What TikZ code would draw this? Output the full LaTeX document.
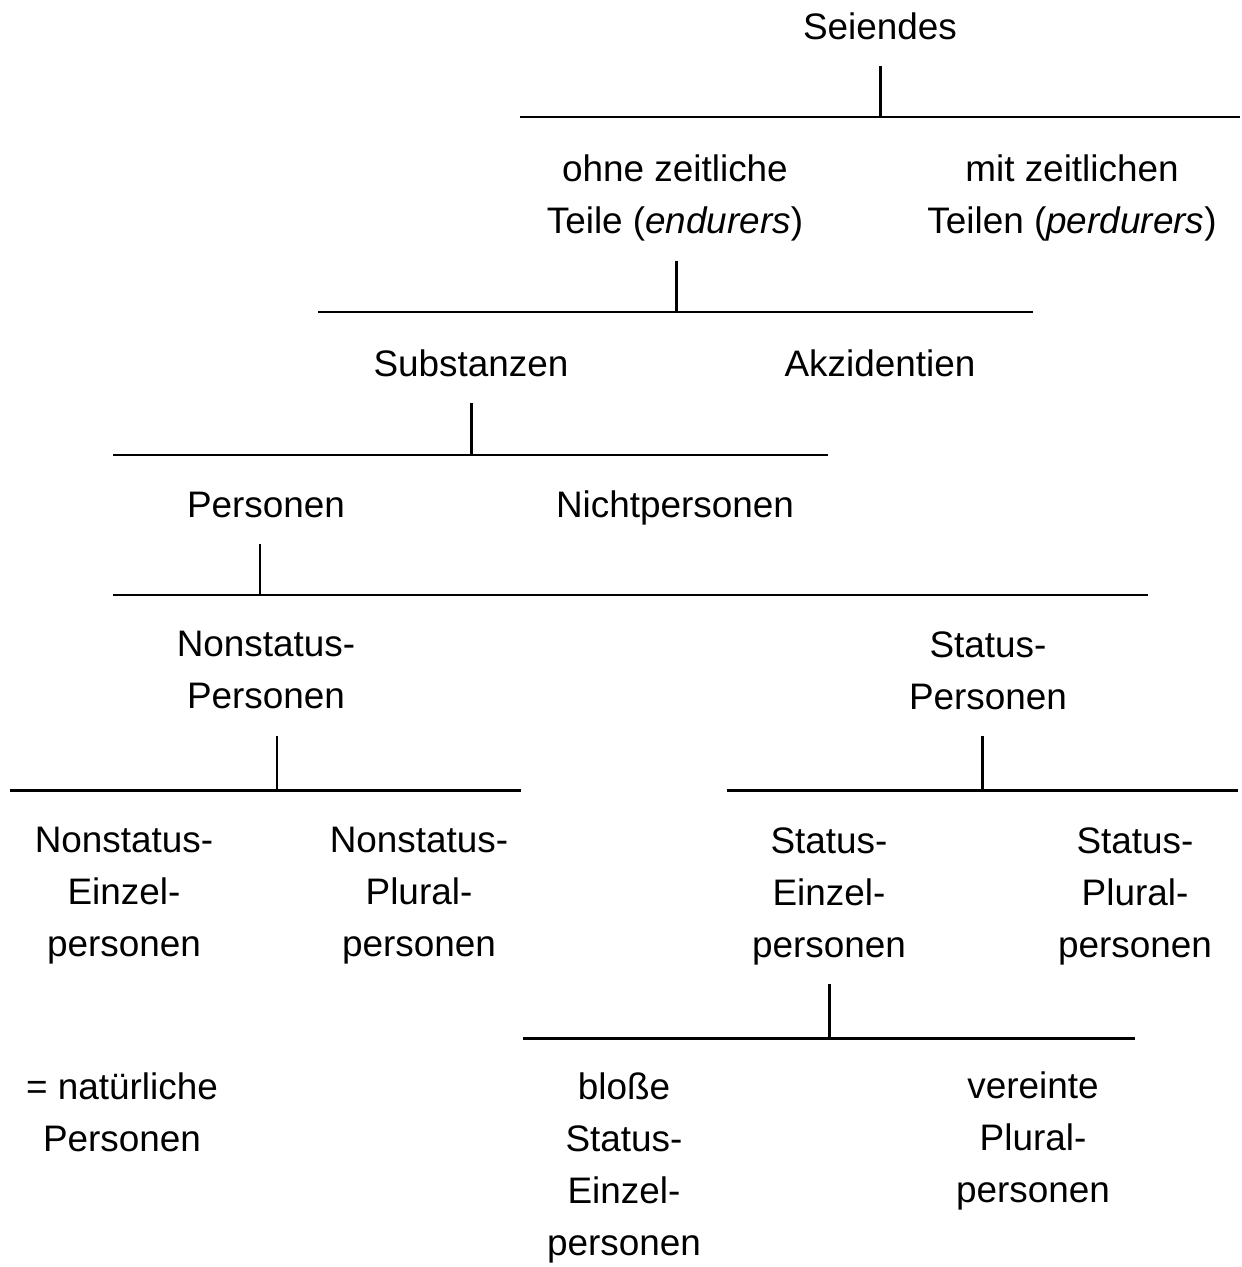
\documentclass[tikz,border=0pt]{standalone}
\usepackage{fontspec}
\setmainfont{Liberation Sans}
\usepackage{tikz}

\begin{document}
\begin{tikzpicture}[x=0.02cm,y=-0.02cm,line width=1.7pt,
    every node/.style={align=center,inner xsep=0pt,inner ysep=0.2cm,
      font=\fontsize{21}{29.6}\selectfont,
      execute at begin node=\strut,execute at end node=\strut}]
    \useasboundingbox (0,0) rectangle (1241,1267);

    % Ebene 1
    \node (seiendes) at (880,29) {Seiendes};
    \coordinate (b1) at (880,117);
    \coordinate (b1l) at (520,117);
    \coordinate (b1r) at (1240,117);
    \node (ohne) at (675,202) {ohne zeitliche\\Teile (\textit{endurers})};
    \node (mit) at (1072,202) {mit zeitlichen\\Teilen (\textit{perdurers})};
    \draw (seiendes.south) -- (b1) (b1l) -- (b1r);

    % Ebene 2
    \coordinate (b2) at (676,312);
    \coordinate (b2l) at (318,312);
    \coordinate (b2r) at (1033,312);
    \node (subst) at (471,366) {Substanzen};
    \node (akzid) at (880,366) {Akzidentien};
    \draw (ohne.south -| b2) -- (b2) (b2l) -- (b2r);

    % Ebene 3
    \coordinate (b3) at (471,455);
    \coordinate (b3l) at (113,455);
    \coordinate (b3r) at (828,455);
    \node (pers) at (266,507) {Personen};
    \node (nichtpers) at (675,507) {Nichtpersonen};
    \draw (subst.south) -- (b3) (b3l) -- (b3r);

    % Ebene 4
    \coordinate (b4) at (260,595);
    \coordinate (b4l) at (113,595);
    \coordinate (b4r) at (1148,595);
    \node (nonstat) at (266,678) {Nonstatus-\\Personen};
    \node (stat) at (988,678) {Status-\\Personen};
    \draw (pers.south -| b4) -- (b4) (b4l) -- (b4r);

    % Ebene 5
    \coordinate (b5) at (277,790);
    \coordinate (b5l) at (10,790);
    \coordinate (b5r) at (521,790);
    \coordinate (b6) at (982,790);
    \coordinate (b6l) at (727,790);
    \coordinate (b6r) at (1238,790);
    \node (nsEinzel) at (124,900) {Nonstatus-\\Einzel-\\personen};
    \node (nsPlural) at (419,900) {Nonstatus-\\Plural-\\personen};
    \node (sEinzel) at (829,900) {Status-\\Einzel-\\personen};
    \node (sPlural) at (1135,900) {Status-\\Plural-\\personen};
    \draw (nonstat.south -| b5) -- (b5) (b5l) -- (b5r);
    \draw (stat.south -| b6) -- (b6) (b6l) -- (b6r);

    % Ebene 6
    \coordinate (b7) at (829,1038);
    \coordinate (b7l) at (523,1038);
    \coordinate (b7r) at (1135,1038);
    \node (natuerl) at (122,1120) {= natürliche\\Personen};
    \node (blosse) at (624,1172) {bloße\\Status-\\Einzel-\\personen};
    \node (vereint) at (1033,1145) {vereinte\\Plural-\\personen};
    \draw (sEinzel.south) -- (b7) (b7l) -- (b7r);
\end{tikzpicture}
\end{document}
